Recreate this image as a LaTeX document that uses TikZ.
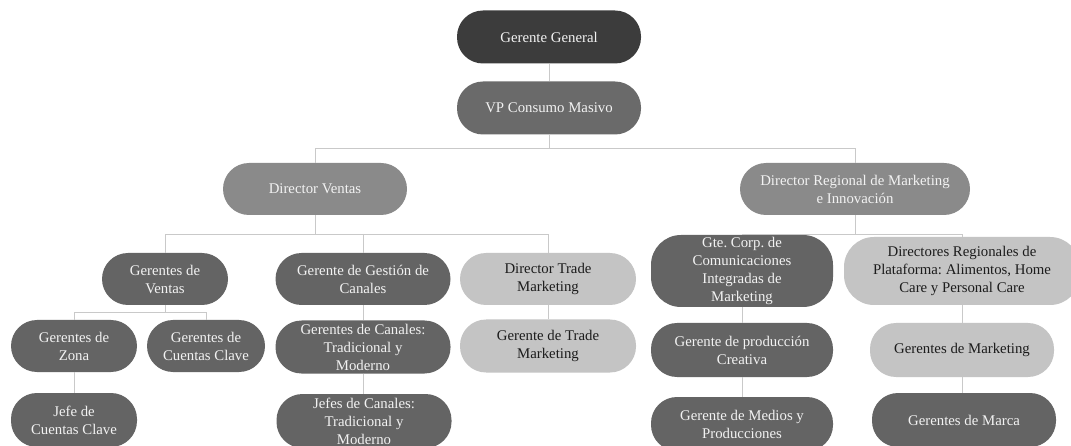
\documentclass[tikz,border=0pt]{standalone}
\usepackage{fontspec}
\setmainfont{Liberation Serif}
\frenchspacing
\definecolor{topfill}{HTML}{3C3C3C}
\definecolor{vpfill}{HTML}{6A6A6A}
\definecolor{dirfill}{HTML}{8A8A8A}
\definecolor{darkfill}{HTML}{646464}
\definecolor{lightfill}{HTML}{C4C4C4}
\definecolor{linkcol}{HTML}{C9C9C9}
\definecolor{lighttext}{HTML}{F2F2F2}
\definecolor{darktext}{HTML}{1C1C1C}
\tikzset{
  pill/.style 2 args={rectangle, rounded corners=26pt, inner sep=0pt,
    minimum width=#1, minimum height=#2, align=center,
    font=\fontsize{14.8}{18}\selectfont},
  onDark/.style={text=lighttext},
  onLight/.style={text=darktext},
  topbox/.style={fill=topfill, onDark},
  vpbox/.style={fill=vpfill, onDark},
  dirbox/.style={fill=dirfill, onDark},
  darkbox/.style={fill=darkfill, onDark},
  lightbox/.style={fill=lightfill, onLight},
  conn/.style={draw=linkcol, line width=0.8pt}
}
\begin{document}
\begin{tikzpicture}[x=1pt,y=-1pt]
\useasboundingbox (0,0) rectangle (1071,446);
\fill[white] (0,0) rectangle (1071,446);
\clip (0,0) rectangle (1071,446);

% bus levels of the tree
\coordinate (busA) at (0,148);
\coordinate (busB) at (0,234);
\coordinate (busC) at (0,312);

% --- boxes ---
\node[pill={184pt}{53pt}, topbox] (gg) at (549,37) {Gerente General};
\node[pill={184pt}{53pt}, vpbox] (vp) at (549,108) {VP Consumo Masivo};

\node[pill={184pt}{52pt}, dirbox] (dv) at (315,189) {Director Ventas};
\node[pill={230pt}{52pt}, dirbox] (drmi) at (855,189) {Director Regional de Marketing\\e Innovación};

\node[pill={126pt}{52pt}, darkbox] (gv) at (165,279) {Gerentes de\\Ventas};
\node[pill={175pt}{52pt}, darkbox] (ggc) at (363,279) {Gerente de Gestión de\\Canales};
\node[pill={176pt}{52pt}, lightbox] (dtm) at (548,279) {Director Trade\\Marketing};

\node[pill={126pt}{52pt}, darkbox] (gz) at (74,346) {Gerentes de\\Zona};
\node[pill={118pt}{52pt}, darkbox] (gcc) at (206,346) {Gerentes de\\Cuentas Clave};
\node[pill={126pt}{54pt}, darkbox] (jcc) at (74,420) {Jefe de\\Cuentas Clave};

\node[pill={175pt}{53pt}, darkbox] (gcan) at (363,347) {Gerentes de Canales:\\Tradicional y\\Moderno};
\node[pill={175pt}{54pt}, darkbox] (jcan) at (364,421) {Jefes de Canales:\\Tradicional y\\Moderno};

\node[pill={176pt}{53pt}, lightbox] (gtm) at (548,346) {Gerente de Trade\\Marketing};

\node[pill={182pt}{72pt}, darkbox, rounded corners=30pt] (gte) at (742,271) {Gte. Corp. de\\Comunicaciones\\Integradas de\\Marketing};
\node[pill={236pt}{68pt}, lightbox, rounded corners=30pt] (drp) at (962,271) {Directores Regionales de\\Plataforma: Alimentos, Home\\Care y Personal Care};

\node[pill={182pt}{54pt}, darkbox] (gpc) at (742,350) {Gerente de producción\\Creativa};
\node[pill={182pt}{54pt}, darkbox] (gmp) at (742,424) {Gerente de Medios y\\Producciones};

\node[pill={184pt}{54pt}, lightbox] (gmk) at (962,350) {Gerentes de Marketing};
\node[pill={184pt}{54pt}, darkbox] (gma) at (964,420) {Gerentes de Marca};

% --- connectors ---
\draw[conn] (gg.south) -- (vp.north);
\draw[conn] (vp.south) -- (vp.south |- busA);
\draw[conn] (dv.north) -- (dv.north |- busA) -- (drmi.north |- busA) -- (drmi.north);

\draw[conn] (dv.south) -- (dv.south |- busB);
\draw[conn] (gv.north) -- (gv.north |- busB) -- (dtm.north |- busB) -- (dtm.north);
\draw[conn] (ggc.north |- busB) -- (ggc.north);

\draw[conn] (gv.south) -- (gv.south |- busC);
\draw[conn] (gz.north) -- (gz.north |- busC) -- (gcc.north |- busC) -- (gcc.north);
\draw[conn] (gz.south) -- (jcc.north);

\draw[conn] (ggc.south) -- (gcan.north);
\draw[conn] (gcan.south) -- (gcan.south |- jcan.north);
\draw[conn] (dtm.south) -- (gtm.north);

\draw[conn] (drmi.south) -- (drmi.south |- busB);
\draw[conn] (gte.north) -- (gte.north |- busB) -- (drp.north |- busB) -- (drp.north);
\draw[conn] (gte.south) -- (gpc.north);
\draw[conn] (gpc.south) -- (gmp.north);
\draw[conn] (drp.south) -- (gmk.north);
\draw[conn] (gmk.south) -- (gmk.south |- gma.north);
\end{tikzpicture}
\end{document}
